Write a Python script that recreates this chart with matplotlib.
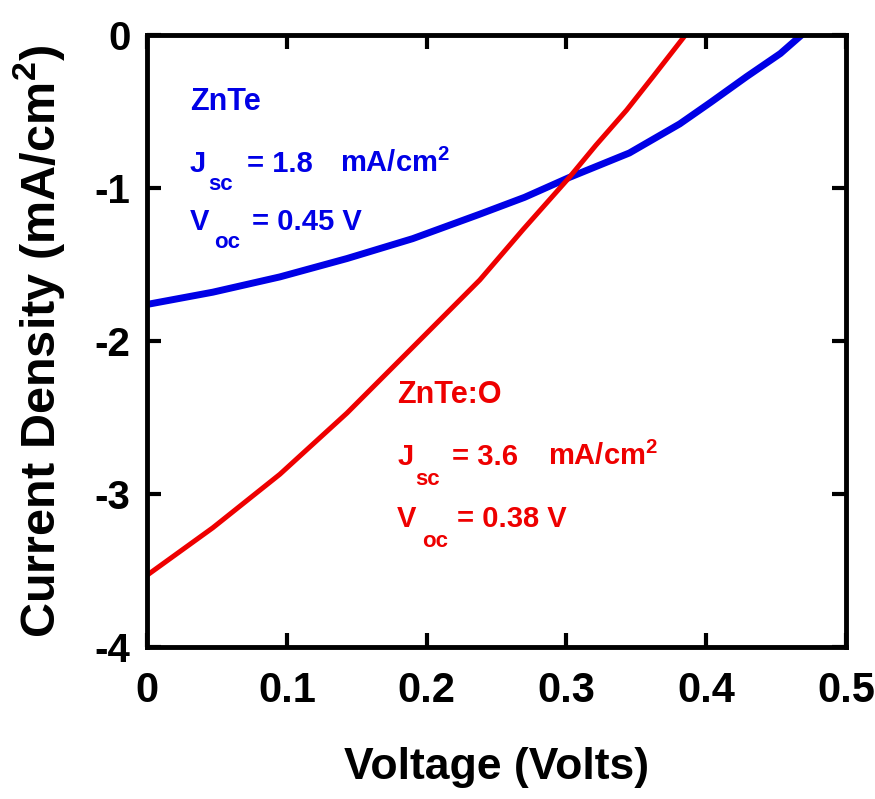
import matplotlib
matplotlib.use("Agg")
import matplotlib.pyplot as plt

# J-V curves (Volts, mA/cm2)
znte_v = [0.0, 0.047, 0.095, 0.143, 0.19, 0.238, 0.27, 0.302, 0.345, 0.381, 0.403, 0.429, 0.453, 0.468]
znte_j = [-1.76, -1.68, -1.58, -1.46, -1.33, -1.17, -1.06, -0.93, -0.77, -0.58, -0.44, -0.27, -0.12, 0.0]
znteo_v = [0.0, 0.047, 0.095, 0.143, 0.19, 0.238, 0.269, 0.302, 0.321, 0.343, 0.362, 0.385]
znteo_j = [-3.53, -3.22, -2.87, -2.47, -2.04, -1.60, -1.27, -0.93, -0.72, -0.49, -0.27, 0.0]

xticks = [0, 0.1, 0.2, 0.3, 0.4, 0.5]
xticklabels = ["0", "0.1", "0.2", "0.3", "0.4", "0.5"]
yticks = [-4, -3, -2, -1, 0]
yticklabels = ["-4", "-3", "-2", "-1", "0"]

plt.rcParams['font.family'] = ['Liberation Sans', 'DejaVu Sans']
plt.rcParams['font.weight'] = 'bold'
plt.rcParams['mathtext.fontset'] = 'custom'
plt.rcParams['mathtext.rm'] = 'Liberation Sans:bold'
plt.rcParams['mathtext.bf'] = 'Liberation Sans:bold'
plt.rcParams['mathtext.default'] = 'bf'

blue = '#0000e6'
red = '#ee0000'

fig = plt.figure(figsize=(8.75, 7.99), dpi=100)
ax = fig.add_axes([0.168, 0.190, 0.799, 0.766])

ax.plot(znte_v, znte_j, color=blue, lw=5, solid_joinstyle='round')
ax.plot(znteo_v, znteo_j, color=red, lw=3.6, solid_joinstyle='round')

ax.set_xlim(0, 0.5)
ax.set_ylim(-4, 0)
ax.set_xticks(xticks)
ax.set_xticklabels(xticklabels)
ax.set_yticks(yticks)
ax.set_yticklabels(yticklabels)
ax.tick_params(direction='in', length=10, width=3, top=True, right=True)
ax.tick_params(axis='x', labelsize=30, pad=17)
ax.tick_params(axis='y', labelsize=29, pad=12)
for s in ax.spines.values():
    s.set_linewidth(3.5)

ax.set_xlabel("Voltage (Volts)", fontsize=32, fontweight='bold', labelpad=26)
ax.set_ylabel(r"Current Density (mA/cm$^{2}$)", fontsize=35, fontweight='bold', labelpad=20)

# annotations (main text, then lowered subscripts)
tr = ax.transAxes
ax.text(0.0615, 0.8775, "ZnTe", color=blue, fontsize=22, transform=tr)
ax.text(0.0615, 0.776, "J", color=blue, fontsize=21, transform=tr)
ax.text(0.087, 0.747, "sc", color=blue, fontsize=16, transform=tr)
ax.text(0.143, 0.776, "= 1.8", color=blue, fontsize=21, transform=tr)
ax.text(0.276, 0.776, r"mA/cm$^{2}$", color=blue, fontsize=21, transform=tr)
ax.text(0.0615, 0.681, "V", color=blue, fontsize=21, transform=tr)
ax.text(0.096, 0.652, "oc", color=blue, fontsize=16, transform=tr)
ax.text(0.150, 0.681, "= 0.45 V", color=blue, fontsize=21, transform=tr)

ax.text(0.358, 0.399, "ZnTe:O", color=red, fontsize=22, transform=tr)
ax.text(0.358, 0.297, "J", color=red, fontsize=21, transform=tr)
ax.text(0.383, 0.265, "sc", color=red, fontsize=16, transform=tr)
ax.text(0.436, 0.297, "= 3.6", color=red, fontsize=21, transform=tr)
ax.text(0.574, 0.297, r"mA/cm$^{2}$", color=red, fontsize=21, transform=tr)
ax.text(0.358, 0.196, "V", color=red, fontsize=21, transform=tr)
ax.text(0.393, 0.163, "oc", color=red, fontsize=16, transform=tr)
ax.text(0.4435, 0.196, "= 0.38 V", color=red, fontsize=21, transform=tr)

fig.savefig("out.png", dpi=100)
